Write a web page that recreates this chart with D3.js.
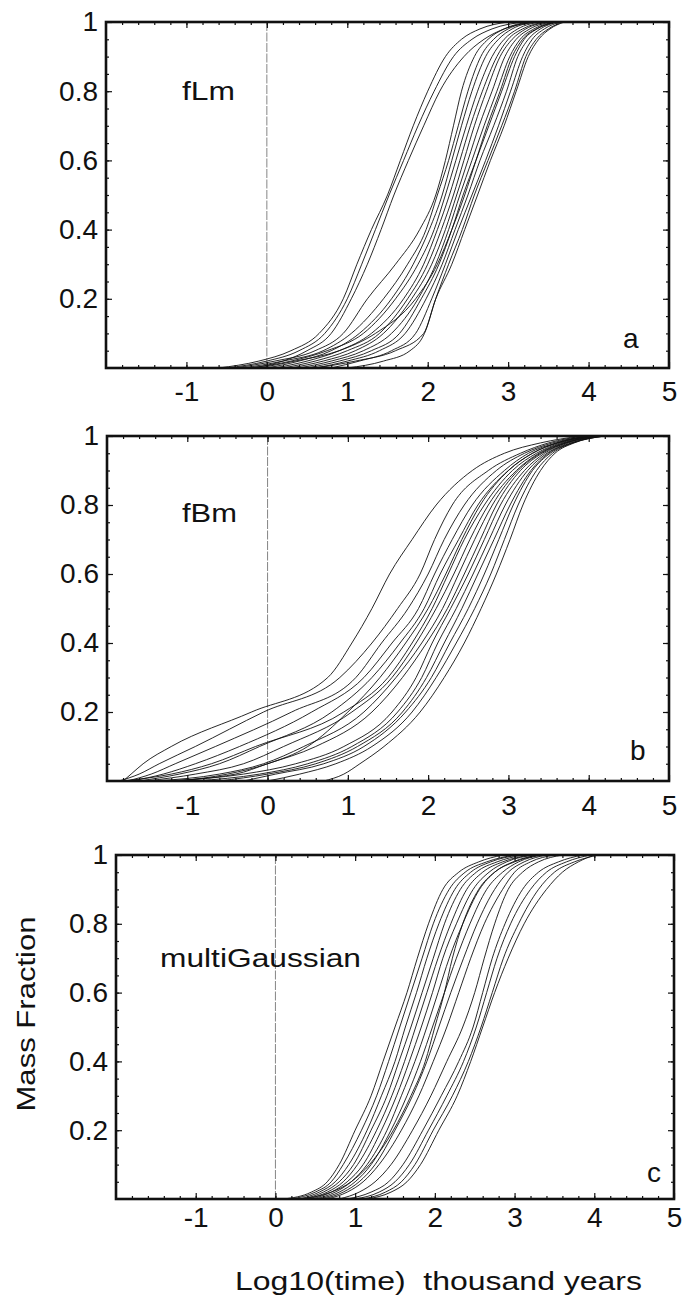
<!DOCTYPE html>
<html>
<head>
<meta charset="utf-8">
<script src="https://cdn.jsdelivr.net/npm/d3@7"></script>
<style>
  body { margin: 0; background: #fff; }
  text { font-family: "Liberation Sans", Arial, sans-serif; fill: #111; }
</style>
</head>
<body>
<div id="chart"></div>
<script>
// mass fraction levels, every curve is given as the log10(time) where it reaches each level
const fractionLevels = [0, 0.02, 0.05, 0.1, 0.2, 0.3, 0.4, 0.5, 0.6, 0.7, 0.8, 0.9, 0.95, 0.98, 1];
const xTicks = [-1, 0, 1, 2, 3, 4, 5];
const yTicks = [0.2, 0.4, 0.6, 0.8, 1];

// panel a - fLm
const fLmCurves = [
    [-0.6, -0.1, 0.3, 0.65, 0.95, 1.12, 1.3, 1.5, 1.66, 1.82, 2.0, 2.22, 2.42, 2.65, 3.0],
    [-0.5, 0.0, 0.4, 0.72, 1.0, 1.18, 1.35, 1.52, 1.7, 1.88, 2.08, 2.32, 2.55, 2.8, 3.2],
    [-0.2, 0.2, 0.5, 0.8, 1.05, 1.25, 1.42, 1.58, 1.76, 1.95, 2.15, 2.45, 2.7, 2.95, 3.35],
    [-0.4, 0.1, 0.6, 0.95, 1.25, 1.6, 1.9, 2.1, 2.22, 2.32, 2.42, 2.58, 2.75, 2.95, 3.25],
    [-0.3, 0.2, 0.7, 1.05, 1.45, 1.75, 1.98, 2.12, 2.26, 2.38, 2.5, 2.66, 2.82, 3.0, 3.3],
    [0.0, 0.4, 0.8, 1.15, 1.55, 1.82, 2.02, 2.18, 2.3, 2.42, 2.55, 2.72, 2.88, 3.05, 3.35],
    [-0.2, 0.3, 0.75, 1.2, 1.6, 1.88, 2.08, 2.22, 2.35, 2.48, 2.62, 2.8, 2.95, 3.12, 3.4],
    [0.1, 0.5, 0.9, 1.3, 1.7, 1.95, 2.12, 2.27, 2.4, 2.53, 2.68, 2.86, 3.0, 3.18, 3.45],
    [0.2, 0.6, 1.0, 1.4, 1.75, 2.0, 2.17, 2.32, 2.45, 2.58, 2.73, 2.9, 3.05, 3.22, 3.5],
    [0.3, 0.7, 1.1, 1.45, 1.8, 2.05, 2.22, 2.36, 2.5, 2.64, 2.8, 2.96, 3.1, 3.27, 3.55],
    [0.4, 0.8, 1.2, 1.55, 1.88, 2.1, 2.26, 2.4, 2.55, 2.7, 2.86, 3.02, 3.15, 3.32, 3.58],
    [0.5, 0.9, 1.3, 1.65, 1.92, 2.14, 2.3, 2.44, 2.6, 2.76, 2.92, 3.08, 3.2, 3.36, 3.6],
    [0.6, 1.0, 1.4, 1.72, 1.98, 2.18, 2.34, 2.5, 2.65, 2.82, 2.98, 3.12, 3.25, 3.4, 3.62],
    [0.8, 1.15, 1.55, 1.85, 2.05, 2.22, 2.38, 2.55, 2.72, 2.88, 3.03, 3.18, 3.3, 3.45, 3.65],
    [1.0, 1.45, 1.78, 1.96, 2.1, 2.26, 2.43, 2.58, 2.75, 2.92, 3.08, 3.22, 3.35, 3.5, 3.68],
    [-0.1, 0.35, 0.9, 1.35, 1.85, 2.12, 2.3, 2.46, 2.6, 2.74, 2.9, 3.05, 3.18, 3.35, 3.6],
    [0.6, 1.1, 1.6, 1.95, 2.1, 2.3, 2.46, 2.62, 2.78, 2.95, 3.1, 3.25, 3.38, 3.52, 3.7]
];

// panel b - fBm
const fBmCurves = [
    [-1.8, -1.7, -1.55, -1.2, -0.2, 0.75, 1.05, 1.3, 1.52, 1.8, 2.1, 2.55, 2.95, 3.4, 3.9],
    [-1.85, -1.6, -1.35, -0.9, -0.05, 0.9, 1.3, 1.62, 1.9, 2.08, 2.3, 2.75, 3.15, 3.5, 3.95],
    [-1.75, -1.45, -1.15, -0.65, 0.3, 1.1, 1.42, 1.75, 2.0, 2.2, 2.45, 2.85, 3.2, 3.55, 4.0],
    [-1.7, -1.3, -0.9, -0.35, 0.55, 1.2, 1.55, 1.88, 2.08, 2.3, 2.55, 2.95, 3.25, 3.6, 4.0],
    [-1.6, -1.1, -0.6, -0.1, 0.8, 1.3, 1.65, 1.95, 2.15, 2.38, 2.62, 3.0, 3.3, 3.62, 4.05],
    [-1.8, -1.2, -0.7, -0.15, 0.95, 1.5, 1.8, 2.05, 2.25, 2.45, 2.7, 3.05, 3.35, 3.65, 4.05],
    [-1.5, -0.9, -0.3, 0.2, 1.05, 1.55, 1.85, 2.1, 2.32, 2.52, 2.75, 3.1, 3.38, 3.68, 4.1],
    [-1.4, -0.6, -0.05, 0.45, 1.2, 1.6, 1.92, 2.18, 2.38, 2.58, 2.8, 3.12, 3.4, 3.7, 4.1],
    [-1.3, -0.4, 0.0, 0.6, 1.3, 1.68, 1.98, 2.24, 2.45, 2.65, 2.85, 3.15, 3.42, 3.72, 4.1],
    [-1.2, -0.3, 0.35, 0.95, 1.55, 1.85, 2.05, 2.28, 2.5, 2.7, 2.9, 3.2, 3.45, 3.72, 4.1],
    [-0.9, -0.1, 0.5, 1.05, 1.62, 1.92, 2.12, 2.35, 2.56, 2.76, 2.96, 3.24, 3.48, 3.75, 4.15],
    [-0.6, 0.0, 0.6, 1.12, 1.68, 1.98, 2.2, 2.42, 2.62, 2.82, 3.02, 3.28, 3.5, 3.78, 4.15],
    [-0.3, 0.1, 0.7, 1.2, 1.72, 2.04, 2.27, 2.5, 2.7, 2.88, 3.06, 3.3, 3.52, 3.8, 4.2],
    [0.0, 0.4, 0.85, 1.3, 1.8, 2.1, 2.35, 2.58, 2.78, 2.95, 3.12, 3.35, 3.55, 3.8, 4.2],
    [0.7, 0.95, 1.15, 1.45, 1.9, 2.2, 2.45, 2.66, 2.85, 3.02, 3.18, 3.4, 3.58, 3.82, 4.2],
    [-1.1, -0.5, 0.0, 0.5, 1.0, 1.4, 1.72, 2.0, 2.22, 2.42, 2.65, 3.0, 3.3, 3.6, 4.0]
];

// panel c - multiGaussian
const multiGaussianCurves = [
    [0.1, 0.45, 0.65, 0.8, 1.0, 1.2, 1.35, 1.5, 1.65, 1.78, 1.92, 2.1, 2.3, 2.55, 2.85],
    [0.2, 0.5, 0.7, 0.85, 1.08, 1.27, 1.42, 1.56, 1.7, 1.84, 1.98, 2.18, 2.38, 2.65, 3.0],
    [0.3, 0.55, 0.75, 0.92, 1.15, 1.33, 1.5, 1.63, 1.77, 1.9, 2.05, 2.25, 2.45, 2.7, 3.05],
    [0.35, 0.6, 0.8, 0.98, 1.2, 1.4, 1.55, 1.7, 1.84, 1.98, 2.12, 2.32, 2.52, 2.78, 3.1],
    [0.4, 0.65, 0.85, 1.03, 1.27, 1.46, 1.62, 1.76, 1.9, 2.04, 2.2, 2.4, 2.6, 2.85, 3.2],
    [0.45, 0.7, 0.9, 1.1, 1.33, 1.52, 1.68, 1.83, 1.97, 2.1, 2.27, 2.48, 2.68, 2.9, 3.25],
    [0.5, 0.75, 0.95, 1.15, 1.4, 1.58, 1.75, 1.9, 2.04, 2.18, 2.35, 2.56, 2.75, 2.98, 3.3],
    [0.55, 0.8, 1.0, 1.2, 1.45, 1.65, 1.82, 1.97, 2.12, 2.27, 2.44, 2.65, 2.85, 3.05, 3.35],
    [0.6, 0.85, 1.05, 1.25, 1.5, 1.72, 1.9, 2.05, 2.2, 2.36, 2.53, 2.75, 2.92, 3.12, 3.4],
    [0.65, 0.9, 1.1, 1.3, 1.58, 1.8, 1.98, 2.15, 2.3, 2.45, 2.62, 2.85, 3.0, 3.2, 3.5],
    [0.3, 0.7, 0.95, 1.18, 1.48, 1.7, 1.88, 2.0, 2.12, 2.22, 2.35, 2.55, 2.75, 3.0, 3.3],
    [0.8, 1.05, 1.25, 1.45, 1.72, 1.95, 2.15, 2.35, 2.5, 2.62, 2.75, 2.92, 3.1, 3.3, 3.6],
    [0.9, 1.2, 1.42, 1.6, 1.85, 2.08, 2.3, 2.48, 2.6, 2.72, 2.88, 3.1, 3.3, 3.55, 3.85],
    [1.0, 1.3, 1.5, 1.68, 1.92, 2.15, 2.36, 2.52, 2.65, 2.78, 2.95, 3.2, 3.4, 3.65, 3.95],
    [1.1, 1.38, 1.58, 1.75, 1.98, 2.22, 2.42, 2.58, 2.72, 2.86, 3.05, 3.3, 3.5, 3.75, 4.05],
    [1.15, 1.45, 1.65, 1.82, 2.05, 2.28, 2.45, 2.6, 2.75, 2.92, 3.12, 3.4, 3.6, 3.8, 4.0]
];

// layout of the three stacked panels (pixel boxes of each frame)
const panels = [
    { curves: fLmCurves, name: "fLm", nameLen: 53, letter: "a", left: 106, right: 669, top: 22, bottom: 368, xPad: 13,
      nameX: 182, nameY: 100, letterX: 623, letterY: 348 },
    { curves: fBmCurves, name: "fBm", nameLen: 55, letter: "b", left: 107, right: 669, top: 436, bottom: 781, xPad: 14,
      nameX: 182, nameY: 522, letterX: 630, letterY: 760 },
    { curves: multiGaussianCurves, name: "multiGaussian", nameLen: 201, letter: "c", left: 116, right: 674, top: 855, bottom: 1199, xPad: 8,
      nameX: 160, nameY: 967, letterX: 647, letterY: 1182 }
];

const svgWidth = 687;
const svgHeight = 1301;

const svg = d3.select("#chart")
    .append("svg")
    .attr("width", svgWidth)
    .attr("height", svgHeight);

// minor tick positions, in data units
const xMinor = d3.range(-9, 25).map(i => i / 5);
const yMinor = d3.range(1, 20).map(i => i / 20);

panels.forEach(function (p) {
    const x = d3.scaleLinear().domain([-2, 5]).range([p.left, p.right]);
    const y = d3.scaleLinear().domain([0, 1]).range([p.bottom, p.top]);
    const g = svg.append("g");

    // zero line
    g.append("line")
        .attr("x1", x(0)).attr("x2", x(0))
        .attr("y1", y(1)).attr("y2", y(0))
        .attr("stroke", "#666")
        .attr("stroke-width", 0.8)
        .attr("stroke-dasharray", "9,1.5");

    // curves
    const line = d3.line()
        .x(d => x(d[0]))
        .y(d => y(d[1]))
        .curve(d3.curveMonotoneX);

    g.selectAll(".curve")
        .data(p.curves)
        .enter()
        .append("path")
        .attr("class", "curve")
        .attr("d", c => line(c.map((v, i) => [v, fractionLevels[i]])))
        .attr("fill", "none")
        .attr("stroke", "#111")
        .attr("stroke-width", 0.9);

    // axes with inward ticks
    const xAxis = g.append("g")
        .attr("class", "axis")
        .attr("transform", `translate(0,${p.bottom})`)
        .call(d3.axisBottom(x).tickValues(xTicks).tickSize(-6).tickPadding(p.xPad).tickFormat(d => String(d)));
    g.append("g")
        .attr("transform", `translate(0,${p.bottom})`)
        .call(d3.axisBottom(x).tickValues(xMinor).tickSize(-3).tickFormat(""));
    g.append("g")
        .attr("transform", `translate(0,${p.top})`)
        .call(d3.axisTop(x).tickValues(xTicks).tickSize(-6).tickFormat(""));
    g.append("g")
        .attr("transform", `translate(0,${p.top})`)
        .call(d3.axisTop(x).tickValues(xMinor).tickSize(-3).tickFormat(""));

    const yAxis = g.append("g")
        .attr("class", "axis")
        .attr("transform", `translate(${p.left},0)`)
        .call(d3.axisLeft(y).tickValues(yTicks).tickSize(-6).tickPadding(8).tickFormat(d => d === 1 ? "1" : d3.format(".1f")(d)));
    g.append("g")
        .attr("transform", `translate(${p.left},0)`)
        .call(d3.axisLeft(y).tickValues(yMinor).tickSize(-3).tickFormat(""));
    g.append("g")
        .attr("transform", `translate(${p.right},0)`)
        .call(d3.axisRight(y).tickValues(yTicks).tickSize(-6).tickFormat(""));
    g.append("g")
        .attr("transform", `translate(${p.right},0)`)
        .call(d3.axisRight(y).tickValues(yMinor).tickSize(-3).tickFormat(""));

    g.selectAll(".domain").remove();
    g.selectAll(".tick line").attr("stroke", "#111").attr("stroke-width", 1.2);
    xAxis.selectAll("text").attr("font-size", 28).attr("fill", "#111");
    yAxis.selectAll("text").attr("font-size", 28).attr("fill", "#111");

    // frame
    g.append("rect")
        .attr("x", p.left).attr("y", p.top)
        .attr("width", p.right - p.left)
        .attr("height", p.bottom - p.top)
        .attr("fill", "none")
        .attr("stroke", "#111")
        .attr("stroke-width", 2.6);

    // model name and panel letter
    g.append("text")
        .text(p.name)
        .attr("x", p.nameX).attr("y", p.nameY)
        .attr("font-size", 26)
        .attr("textLength", p.nameLen)
        .attr("lengthAdjust", "spacingAndGlyphs");

    g.append("text")
        .text(p.letter)
        .attr("x", p.letterX).attr("y", p.letterY)
        .attr("font-size", 28);
});

// axis titles
svg.append("text")
    .text("Mass Fraction")
    .attr("transform", "translate(35,1014) rotate(-90)")
    .attr("text-anchor", "middle")
    .attr("font-size", 26)
    .attr("textLength", 195)
    .attr("lengthAdjust", "spacingAndGlyphs");

svg.append("text")
    .text("Log10(time)  thousand years")
    .style("white-space", "pre")
    .attr("x", 235).attr("y", 1290)
    .attr("font-size", 26)
    .attr("textLength", 407)
    .attr("lengthAdjust", "spacingAndGlyphs");
</script>
</body>
</html>
